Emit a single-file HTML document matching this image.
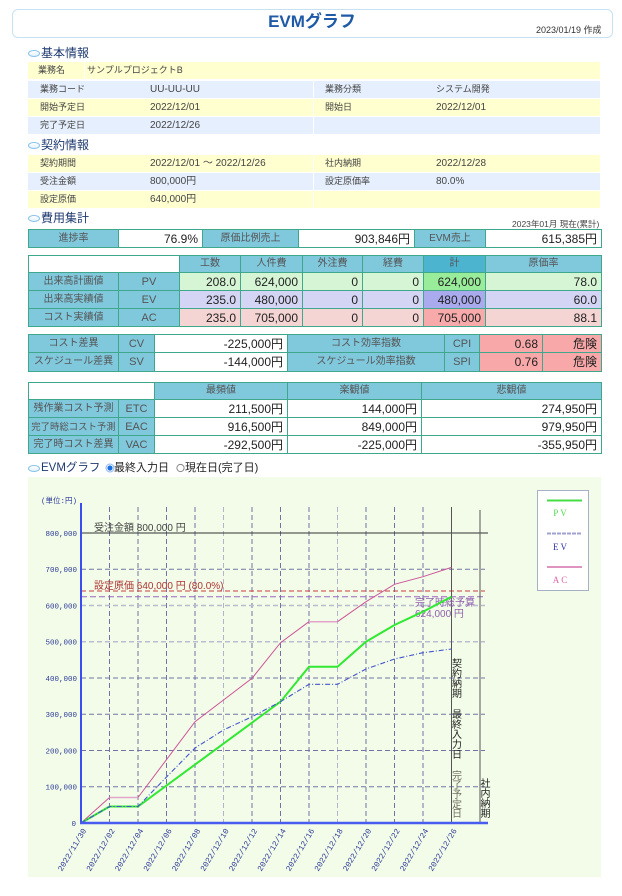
<!DOCTYPE html>
<html><head><meta charset="utf-8">
<style>
*{margin:0;padding:0;box-sizing:border-box}
body{width:622px;height:896px;position:relative;background:#fff;font-family:"Liberation Sans","Noto Sans CJK JP",sans-serif;color:#333;overflow:hidden}
.a{position:absolute;white-space:nowrap}
.hd{position:absolute;left:12px;top:9px;width:601px;height:29px;border:1px solid #c6e2f2;border-radius:6px}
.title{position:absolute;left:0;width:624px;top:10px;text-align:center;font-size:17px;font-weight:bold;color:#1f5aa6;line-height:24px}
.date{left:536px;top:25px;font-size:9px;color:#333;line-height:10px}
.sec{position:absolute;left:41px;font-size:12px;color:#1e3a70;line-height:14px;white-space:nowrap}
.ov{position:absolute;left:28px;width:12px;height:7px;border:1.5px solid #86c2ea;border-radius:50%;background:linear-gradient(#ffffff,#e4f2fc)}
.cell{position:absolute;height:17px}
.y{background:#ffffcf}
.b{background:#e5effd}
.t{position:absolute;font-size:9px;line-height:17px;color:#444;white-space:nowrap}
.n{font-size:10px}
.tb{position:absolute;left:28px;width:573px;border-collapse:collapse;table-layout:fixed}
.tb td{border:1px solid #3fa88c;padding:0 4px;font-size:12px;line-height:14px;white-space:nowrap;overflow:hidden;color:#222;text-align:right}
.tb td.h{background:#80c8dc;color:#555;font-size:10px;text-align:center;padding:0}
.tb td.hk{background:#80c8dc;color:#555;font-size:11px;text-align:center;padding:0}
.tb td.w{background:#fff}
.pv{background:#d5f5d5}.pvs{background:#99ec99}
.ev{background:#d4d4f4}.evs{background:#aaaaee}
.ac{background:#f5d4d4}.acs{background:#f8aaaa}
.dg{background:#f8a8a8}
.tb td.hs{background:#4db4d0;color:#555;font-size:10px;text-align:center;padding:0}
.note{position:absolute;left:512px;top:219px;font-size:8.5px;color:#444;line-height:10px;white-space:nowrap}
</style></head><body>

<div class="hd"></div>
<div class="title">EVMグラフ</div>
<div class="a date">2023/01/19 作成</div>

<!-- 基本情報 -->
<div class="ov" style="top:50px"></div>
<div class="sec" style="top:46px">基本情報</div>

<div class="cell y" style="left:28px;top:62px;width:56px"></div>
<div class="cell y" style="left:85px;top:62px;width:515px"></div>
<div class="t" style="left:38px;top:62px">業務名</div>
<div class="t" style="left:87px;top:62px">サンプルプロジェクトB</div>

<div class="cell b" style="left:28px;top:81px;width:285px"></div>
<div class="cell b" style="left:314px;top:81px;width:286px"></div>
<div class="t" style="left:40px;top:81px">業務コード</div>
<div class="t n" style="left:150px;top:81px">UU-UU-UU</div>
<div class="t" style="left:325px;top:81px">業務分類</div>
<div class="t" style="left:436px;top:81px">システム開発</div>

<div class="cell y" style="left:28px;top:99px;width:285px"></div>
<div class="cell y" style="left:314px;top:99px;width:286px"></div>
<div class="t" style="left:40px;top:99px">開始予定日</div>
<div class="t n" style="left:150px;top:99px">2022/12/01</div>
<div class="t" style="left:325px;top:99px">開始日</div>
<div class="t n" style="left:436px;top:99px">2022/12/01</div>

<div class="cell b" style="left:28px;top:117px;width:285px"></div>
<div class="cell b" style="left:314px;top:117px;width:286px"></div>
<div class="t" style="left:40px;top:117px">完了予定日</div>
<div class="t n" style="left:150px;top:117px">2022/12/26</div>

<!-- 契約情報 -->
<div class="ov" style="top:142px"></div>
<div class="sec" style="top:138px">契約情報</div>

<div class="cell y" style="left:28px;top:155px;width:285px"></div>
<div class="cell y" style="left:314px;top:155px;width:286px"></div>
<div class="t" style="left:40px;top:155px">契約期間</div>
<div class="t n" style="left:150px;top:155px">2022/12/01 ～ 2022/12/26</div>
<div class="t" style="left:325px;top:155px">社内納期</div>
<div class="t n" style="left:436px;top:155px">2022/12/28</div>

<div class="cell b" style="left:28px;top:173px;width:285px"></div>
<div class="cell b" style="left:314px;top:173px;width:286px"></div>
<div class="t" style="left:40px;top:173px">受注金額</div>
<div class="t n" style="left:150px;top:173px">800,000円</div>
<div class="t" style="left:325px;top:173px">設定原価率</div>
<div class="t n" style="left:436px;top:173px">80.0%</div>

<div class="cell y" style="left:28px;top:191px;width:285px"></div>
<div class="cell y" style="left:314px;top:191px;width:286px"></div>
<div class="t" style="left:40px;top:191px">設定原価</div>
<div class="t n" style="left:150px;top:191px">640,000円</div>

<!-- 費用集計 -->
<div class="ov" style="top:215px"></div>
<div class="sec" style="top:211px">費用集計</div>
<div class="note">2023年01月 現在(累計)</div>

<table class="tb" style="top:229px">
<colgroup><col style="width:90px"><col style="width:84px"><col style="width:96px"><col style="width:116px"><col style="width:71px"><col style="width:116px"></colgroup>
<tr style="height:18px"><td class="h">進捗率</td><td class="w">76.9%</td><td class="h">原価比例売上</td><td class="w">903,846円</td><td class="h">EVM売上</td><td class="w">615,385円</td></tr>
</table>

<table class="tb" style="top:255px">
<colgroup><col style="width:90px"><col style="width:61px"><col style="width:61px"><col style="width:62px"><col style="width:60px"><col style="width:61px"><col style="width:62px"><col style="width:116px"></colgroup>
<tr style="height:17px"><td class="w" colspan="2"></td><td class="h">工数</td><td class="h">人件費</td><td class="h">外注費</td><td class="h">経費</td><td class="hs">計</td><td class="h">原価率</td></tr>
<tr style="height:18px"><td class="h">出来高計画値</td><td class="hk">PV</td><td class="pv">208.0</td><td class="pv">624,000</td><td class="pv">0</td><td class="pv">0</td><td class="pvs">624,000</td><td class="pv">78.0</td></tr>
<tr style="height:18px"><td class="h">出来高実績値</td><td class="hk">EV</td><td class="ev">235.0</td><td class="ev">480,000</td><td class="ev">0</td><td class="ev">0</td><td class="evs">480,000</td><td class="ev">60.0</td></tr>
<tr style="height:18px"><td class="h">コスト実績値</td><td class="hk">AC</td><td class="ac">235.0</td><td class="ac">705,000</td><td class="ac">0</td><td class="ac">0</td><td class="acs">705,000</td><td class="ac">88.1</td></tr>
</table>

<table class="tb" style="top:334px">
<colgroup><col style="width:90px"><col style="width:36px"><col style="width:133px"><col style="width:157px"><col style="width:35px"><col style="width:63px"><col style="width:59px"></colgroup>
<tr style="height:18px"><td class="h">コスト差異</td><td class="hk">CV</td><td class="w">-225,000円</td><td class="h">コスト効率指数</td><td class="hk">CPI</td><td class="dg">0.68</td><td class="dg">危険</td></tr>
<tr style="height:19px"><td class="h">スケジュール差異</td><td class="hk">SV</td><td class="w">-144,000円</td><td class="h">スケジュール効率指数</td><td class="hk">SPI</td><td class="dg">0.76</td><td class="dg">危険</td></tr>
</table>

<table class="tb" style="top:382px">
<colgroup><col style="width:90px"><col style="width:36px"><col style="width:133px"><col style="width:134px"><col style="width:180px"></colgroup>
<tr style="height:17px"><td class="w" colspan="2"></td><td class="h">最頻値</td><td class="h">楽観値</td><td class="h">悲観値</td></tr>
<tr style="height:18px"><td class="h">残作業コスト予測</td><td class="hk">ETC</td><td class="w">211,500円</td><td class="w">144,000円</td><td class="w">274,950円</td></tr>
<tr style="height:18px"><td class="h" style="font-size:9.4px">完了時総コスト予測</td><td class="hk">EAC</td><td class="w">916,500円</td><td class="w">849,000円</td><td class="w">979,950円</td></tr>
<tr style="height:18px"><td class="h">完了時コスト差異</td><td class="hk">VAC</td><td class="w">-292,500円</td><td class="w">-225,000円</td><td class="w">-355,950円</td></tr>
</table>

<!-- EVMグラフ heading -->
<div class="ov" style="top:465px"></div>
<div class="sec" style="top:461px;font-size:11.5px">EVMグラフ</div>
<div class="a" style="left:114px;top:461px;font-size:11px;line-height:14px;color:#222">最終入力日</div>
<div class="a" style="left:185px;top:461px;font-size:11px;line-height:14px;color:#222">現在日(完了日)</div>

<svg class="a" style="left:0;top:0" width="622" height="896" font-family="Liberation Sans, Noto Sans CJK JP, sans-serif">
<!-- radios -->
<circle cx="110" cy="468" r="4" fill="#fff" stroke="#8ab4f0" stroke-width="1"/>
<circle cx="110" cy="468" r="2.6" fill="#1a6fe0"/>
<circle cx="180.5" cy="468" r="3.6" fill="#fff" stroke="#888" stroke-width="1"/>

<rect x="28" y="477" width="573" height="400" fill="#f2fce8"/>

<!-- vertical grid -->
<g stroke="#7474a4" stroke-width="1" stroke-dasharray="5,3">
<line x1="109.5" y1="507" x2="109.5" y2="823"/>
<line x1="138" y1="507" x2="138" y2="823"/>
<line x1="166.5" y1="507" x2="166.5" y2="823"/>
<line x1="195" y1="507" x2="195" y2="823"/>
<line x1="223.5" y1="507" x2="223.5" y2="823" stroke="#b4b4cc"/>
<line x1="252" y1="507" x2="252" y2="823"/>
<line x1="280.5" y1="507" x2="280.5" y2="823"/>
<line x1="309" y1="507" x2="309" y2="823"/>
<line x1="337.5" y1="507" x2="337.5" y2="823" stroke="#b4b4cc"/>
<line x1="366" y1="507" x2="366" y2="823"/>
<line x1="394.5" y1="507" x2="394.5" y2="823"/>
<line x1="423" y1="507" x2="423" y2="823"/>
</g>
<!-- horizontal grid -->
<g stroke="#7474a4" stroke-width="1" stroke-dasharray="5,3">
<line x1="81" y1="786.75" x2="485" y2="786.75"/>
<line x1="81" y1="750.5" x2="485" y2="750.5"/>
<line x1="81" y1="714.25" x2="485" y2="714.25"/>
<line x1="81" y1="678" x2="485" y2="678"/>
<line x1="81" y1="641.75" x2="485" y2="641.75" stroke="#bcbcd0" stroke-width="1.5"/>
<line x1="81" y1="605.5" x2="485" y2="605.5" stroke="#bcbcd0" stroke-width="1.5"/>
<line x1="81" y1="569.25" x2="485" y2="569.25"/>
</g>
<line x1="81" y1="533" x2="488" y2="533" stroke="#333" stroke-width="1"/>
<line x1="81" y1="591" x2="485" y2="591" stroke="#cc3b3b" stroke-width="1" stroke-dasharray="5,3"/>
<line x1="81" y1="596.8" x2="485" y2="596.8" stroke="#9a66c0" stroke-width="1" stroke-dasharray="6,3"/>
<line x1="451.5" y1="507" x2="451.5" y2="823" stroke="#555" stroke-width="1"/>
<line x1="480" y1="510" x2="480" y2="823" stroke="#555" stroke-width="1"/>

<!-- labels in plot -->
<text x="94" y="531" font-size="10" fill="#444">受注金額 800,000 円</text>
<text x="94" y="589" font-size="10" fill="#b03434">設定原価 640,000 円 (80.0%)</text>
<text x="415" y="606" font-size="10" fill="#9060b0">完了時総予算</text>
<text x="415" y="617" font-size="10" fill="#9060b0">624,000 円</text>

<!-- series -->
<polyline fill="none" stroke="#cc5599" stroke-width="1" points="81,823 109.5,797.5"/>
<polyline fill="none" stroke="#e4a4cc" stroke-width="1.5" points="109.5,797.5 138,797.5"/>
<polyline fill="none" stroke="#cc5599" stroke-width="1" points="138,797.5 195,721.7 223.5,700 252,678.3 280.5,642.7 309,621.7"/>
<polyline fill="none" stroke="#e4a4cc" stroke-width="1.5" points="309,621.7 337.5,621.7"/>
<polyline fill="none" stroke="#cc5599" stroke-width="1" points="337.5,621.7 366,601.7 394.5,584.3 423,576.7 451.5,567.4"/>
<polyline fill="none" stroke="#33e833" stroke-width="2" points="81,823 109.5,806.5 138,806.5 280.5,701.7 309,666.7 337.5,666.7 366,641.7 394.5,625 423,611.7 451.5,596.8"/>
<polyline fill="none" stroke="#4455cc" stroke-width="1.1" stroke-dasharray="5,2,1,2" points="81,823 109.5,806.5 138,806.5 166.5,777 195,748 223.5,730 252,716.7 280.5,701.7 309,684.3 337.5,684.3 366,669 394.5,659 423,652.7 451.5,649"/>

<!-- axes -->
<line x1="81" y1="503" x2="81" y2="824" stroke="#3b4cf0" stroke-width="2"/>
<line x1="80" y1="823" x2="488" y2="823" stroke="#4a5cf0" stroke-width="2.5"/>

<!-- y labels -->
<g font-family="Liberation Mono, monospace" font-size="7.5" fill="#2e3a9a" text-anchor="end">
<text x="77" y="503">(単位:円)</text>
<text x="77" y="536">800,000</text>
<text x="77" y="572">700,000</text>
<text x="77" y="608.5">600,000</text>
<text x="77" y="644.5">500,000</text>
<text x="77" y="681">400,000</text>
<text x="77" y="717">300,000</text>
<text x="77" y="753.5">200,000</text>
<text x="77" y="789.5">100,000</text>
<text x="76" y="826">0</text>
</g>

<!-- x labels -->
<g font-family="Liberation Mono, monospace" font-size="8" fill="#2e3a9a" text-anchor="end">
<text transform="translate(84,829) rotate(-59)" y="3">2022/11/30</text>
<text transform="translate(112.5,829) rotate(-59)" y="3">2022/12/02</text>
<text transform="translate(141,829) rotate(-59)" y="3">2022/12/04</text>
<text transform="translate(169.5,829) rotate(-59)" y="3">2022/12/06</text>
<text transform="translate(198,829) rotate(-59)" y="3">2022/12/08</text>
<text transform="translate(226.5,829) rotate(-59)" y="3">2022/12/10</text>
<text transform="translate(255,829) rotate(-59)" y="3">2022/12/12</text>
<text transform="translate(283.5,829) rotate(-59)" y="3">2022/12/14</text>
<text transform="translate(312,829) rotate(-59)" y="3">2022/12/16</text>
<text transform="translate(340.5,829) rotate(-59)" y="3">2022/12/18</text>
<text transform="translate(369,829) rotate(-59)" y="3">2022/12/20</text>
<text transform="translate(397.5,829) rotate(-59)" y="3">2022/12/22</text>
<text transform="translate(426,829) rotate(-59)" y="3">2022/12/24</text>
<text transform="translate(454.5,829) rotate(-59)" y="3">2022/12/26</text>
</g>

<!-- vertical texts -->
<g font-size="10" fill="#222" text-anchor="middle">
<text x="457" y="667">契</text><text x="457" y="677">約</text><text x="457" y="687">納</text><text x="457" y="697">期</text>
<text x="457" y="718">最</text><text x="457" y="728">終</text><text x="457" y="738">入</text><text x="457" y="748">力</text><text x="457" y="758">日</text>
<g fill="#707060"><text x="457" y="779">完</text><text x="457" y="788.5">了</text><text x="457" y="798">予</text><text x="457" y="808">定</text><text x="457" y="817">日</text></g>
<text x="485.5" y="787">社</text><text x="485.5" y="797">内</text><text x="485.5" y="807">納</text><text x="485.5" y="817">期</text>
</g>

<!-- legend -->
<rect x="537.5" y="490.5" width="51" height="100" fill="#fff" stroke="#a8b0c8" stroke-width="1"/>
<line x1="547" y1="500.5" x2="582" y2="500.5" stroke="#44dd44" stroke-width="2"/>
<text x="561" y="516" font-family="Liberation Serif, serif" font-size="9" fill="#55dd55" text-anchor="middle" letter-spacing="2">PV</text>
<line x1="547" y1="533.5" x2="582" y2="533.5" stroke="#a0a0d0" stroke-width="2" stroke-dasharray="4,1"/>
<text x="561" y="550" font-family="Liberation Serif, serif" font-size="9" fill="#3333aa" text-anchor="middle" letter-spacing="2">EV</text>
<line x1="547" y1="567" x2="582" y2="567" stroke="#cc5599" stroke-width="1.2"/>
<text x="561" y="583" font-family="Liberation Serif, serif" font-size="9" fill="#dd66aa" text-anchor="middle" letter-spacing="2">AC</text>
</svg>

</body></html>
